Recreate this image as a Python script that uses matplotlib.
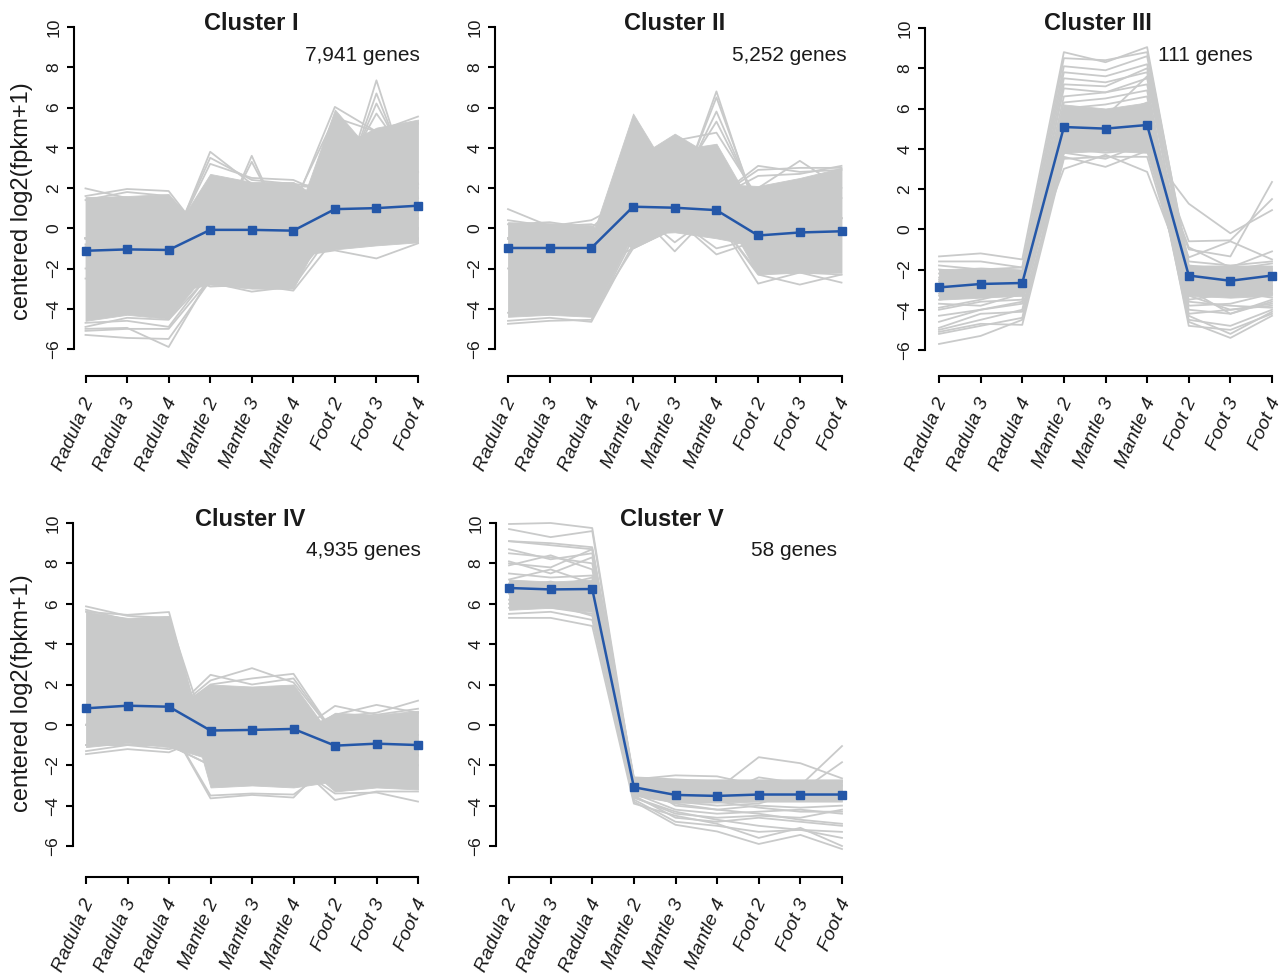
import numpy as np
import matplotlib
matplotlib.use('Agg')
import matplotlib.pyplot as plt
from matplotlib.transforms import offset_copy

plt.rcParams['font.family'] = ['Liberation Sans', 'DejaVu Sans']

W, H = 1282, 975
GRAY = '#c9caca'
BLUE = '#2457a8'
INK = '#1a1a1a'

samples = ['Radula 2', 'Radula 3', 'Radula 4', 'Mantle 2', 'Mantle 3',
           'Mantle 4', 'Foot 2', 'Foot 3', 'Foot 4']
titles = ['Cluster I', 'Cluster II', 'Cluster III', 'Cluster IV', 'Cluster V']
gene_counts = ['7,941 genes', '5,252 genes', '111 genes', '4,935 genes', '58 genes']
yticks = [-6, -4, -2, 0, 2, 4, 6, 8, 10]

# cluster means (blue)
mean_1 = [-1.12, -1.05, -1.08, -0.08, -0.08, -0.12, 0.95, 1.00, 1.12]
mean_2 = [-0.98, -0.98, -0.98, 1.07, 1.02, 0.90, -0.36, -0.21, -0.15]
mean_3 = [-2.89, -2.72, -2.67, 5.08, 5.00, 5.18, -2.30, -2.56, -2.30]
mean_4 = [0.82, 0.95, 0.90, -0.28, -0.25, -0.20, -1.03, -0.93, -1.00]
mean_5 = [6.78, 6.71, 6.73, -3.09, -3.47, -3.52, -3.45, -3.45, -3.45]

# profiles that bound the dense part of each cluster (area between them is solid)
core_1 = [
    [1.55, 1.60, 1.70, -0.70, -0.60, -0.50, 0.30, 0.30, 0.40],
    [-0.50, -0.50, -0.57, 2.70, 2.30, 2.30, 1.00, 1.00, 1.00],
    [-1.00, -1.00, -1.00, 0.20, 0.20, 0.14, 5.90, 3.50, 3.50],
    [-1.00, -1.00, -1.00, 0.00, 0.00, 0.00, 3.95, 5.00, 5.40],
    [-4.60, -4.30, -4.50, -2.00, -2.00, -2.00, 0.00, 0.00, 0.00],
    [-2.50, -2.50, -3.20, -2.80, -3.00, -3.00, 0.90, 0.50, 0.50],
    [-1.50, -1.50, -1.50, -1.50, -1.50, -1.40, -1.05, -0.85, -0.70],
]
core_2 = [
    [0.30, 0.25, 0.15, -1.00, 0.00, 0.00, 0.00, 0.00, 0.00],
    [-0.50, -0.50, -0.50, 5.70, 2.30, 2.00, 1.00, 1.00, 1.00],
    [-0.50, -0.50, -0.50, 3.40, 4.70, 3.47, 1.00, 1.00, 1.00],
    [-0.50, -0.50, -0.50, 3.00, 3.88, 4.20, 0.60, 1.00, 1.00],
    [-0.50, -0.50, -0.50, 2.00, 2.00, 2.20, 2.10, 2.50, 3.00],
    [-4.40, -4.30, -4.40, -0.30, -0.20, -0.50, -0.90, -0.50, -0.50],
    [-1.00, -1.00, -1.00, 1.00, 1.00, 1.33, -2.30, -2.20, -2.20],
]
core_3 = [
    [-2.00, -1.90, -2.00, 6.20, 6.00, 6.30, -1.80, -1.80, -1.80],
    [-3.50, -3.40, -3.30, 3.80, 3.90, 3.80, -3.30, -3.40, -3.30],
]
core_4 = [
    [5.60, 5.30, 5.40, -2.30, -1.50, -1.50, -1.50, -1.50, -1.50],
    [0.60, 0.60, 0.64, 2.00, 1.90, 2.00, -0.80, -0.50, -0.50],
    [0.00, 0.00, 0.00, 0.00, 0.00, -0.70, 0.60, 0.50, 0.70],
    [-1.10, -0.90, -1.10, -1.70, -1.00, -1.00, -1.00, -1.00, -1.00],
    [1.00, 1.00, 4.20, -3.10, -3.00, -3.10, -2.80, -2.00, -2.00],
    [0.00, 0.00, 0.00, 0.00, 0.00, -1.54, -3.30, -3.10, -3.20],
]
core_5 = [
    [7.20, 7.10, 7.20, -2.60, -2.70, -2.70, -2.70, -2.70, -2.70],
    [5.70, 5.80, 5.60, -3.50, -3.85, -3.85, -3.80, -3.80, -3.80],
]

# single gene traces visible outside the dense part
genes_1 = [
    [1.98, 1.50, 1.40, -0.50, -0.30, -0.30, 0.50, 0.50, 0.50],
    [1.60, 1.95, 1.85, -0.80, -0.50, -0.50, 0.50, 0.40, 0.50],
    [1.40, 1.80, 1.60, -0.60, 0.00, 0.20, 0.80, 0.80, 0.80],
    [-1.00, -1.20, -1.30, 3.80, 2.20, 2.10, 2.00, 2.00, 2.00],
    [-0.80, -1.00, -1.10, 3.50, 2.40, 2.20, 2.00, 2.00, 2.00],
    [-0.90, -1.00, -1.00, 3.20, 2.50, 2.40, 1.50, 1.50, 1.50],
    [-0.50, -0.50, -0.50, -1.20, 3.60, -1.00, 1.00, 1.00, 1.00],
    [-0.50, -0.50, -0.50, -0.80, 3.30, -0.60, 1.00, 1.00, 1.00],
    [-0.50, -0.50, -0.50, 0.00, 0.00, 0.00, 0.65, 7.35, 0.90],
    [-0.50, -0.50, -0.50, 0.00, 0.00, 0.00, 0.90, 6.70, 1.50],
    [-0.50, -0.50, -0.50, 0.00, 0.00, 0.00, 1.30, 6.20, 2.20],
    [-0.50, -0.50, -0.50, 0.50, 0.50, 0.50, 2.00, 5.70, 2.80],
    [-0.50, -0.50, -0.50, 1.00, 1.00, 1.00, 6.03, 4.80, 5.20],
    [-1.00, -1.00, -1.00, 1.00, 1.00, 1.20, 5.50, 4.80, 5.55],
    [-5.30, -5.45, -5.50, -2.60, -2.50, -2.50, 0.00, 0.00, 0.00],
    [-5.00, -4.95, -5.90, -2.40, -2.20, -2.20, 0.00, 0.00, 0.00],
    [-5.10, -5.00, -5.00, -2.50, -2.30, -2.30, 0.00, 0.00, 0.00],
    [-4.70, -4.60, -4.90, -2.20, -2.00, -2.00, 0.00, 0.00, 0.00],
    [-4.90, -4.45, -4.55, -2.30, -2.20, -2.20, 0.00, 0.00, 0.00],
    [-2.50, -2.50, -2.50, -2.70, -3.15, -2.90, 0.00, 0.00, 0.00],
    [-2.00, -2.00, -2.00, -2.90, -2.80, -3.10, -0.50, -0.50, -0.50],
    [-1.00, -1.00, -1.00, -1.50, -1.50, -1.40, -1.10, -1.50, -0.75],
    [-1.00, -1.00, -1.00, -1.50, -1.50, -1.40, -0.90, -0.80, -0.60],
]
genes_2 = [
    [0.95, 0.10, 0.20, -0.50, 0.50, 0.50, 0.00, 0.00, 0.00],
    [0.40, 0.10, 0.40, 1.50, 1.00, 1.00, 0.00, 0.00, 0.00],
    [0.20, 0.30, 0.00, 2.00, 1.50, 1.50, 0.00, 0.00, 0.00],
    [-0.50, -0.50, -0.50, 2.50, 4.35, 4.75, 1.50, 1.50, 1.50],
    [-0.50, -0.50, -0.50, 2.00, 1.00, 6.80, 0.50, 0.50, 0.50],
    [-0.50, -0.50, -0.50, 2.00, 1.20, 6.50, 0.80, 0.50, 0.50],
    [-0.50, -0.50, -0.50, 2.00, 1.50, 5.80, 1.00, 0.50, 0.50],
    [-0.50, -0.50, -0.50, 2.00, 2.00, 5.30, 1.20, 0.50, 0.50],
    [-0.50, -0.50, -0.50, 1.00, 1.00, 1.50, 3.10, 2.80, 2.90],
    [-0.50, -0.50, -0.50, 1.00, 1.00, 1.50, 2.90, 3.00, 3.00],
    [-0.50, -0.50, -0.50, 1.00, 1.00, 1.50, 2.00, 3.35, 2.00],
    [-0.50, -0.50, -0.50, 1.00, 1.00, 1.50, 2.60, 2.70, 3.10],
    [-4.75, -4.60, -4.55, -0.50, 0.00, 0.00, 0.00, 0.00, 0.00],
    [-4.60, -4.45, -4.65, -0.80, 0.00, 0.00, 0.00, 0.00, 0.00],
    [-4.20, -4.10, -4.30, -1.00, 0.00, 0.00, 0.00, 0.00, 0.00],
    [-2.00, -2.00, -2.00, -1.00, 0.50, 0.50, 0.00, 0.00, 0.00],
    [-1.00, -1.00, -1.00, 1.00, -1.15, 1.00, 0.00, 0.00, 0.00],
    [-1.00, -1.00, -1.00, 1.00, -0.70, 0.80, 0.00, 0.00, 0.00],
    [-1.00, -1.00, -1.00, 1.00, 0.50, -1.30, -0.60, 0.00, 0.00],
    [-1.00, -1.00, -1.00, 1.00, 0.50, -1.00, -0.50, 0.00, 0.00],
    [-1.00, -1.00, -1.00, 0.50, 0.50, 0.50, -2.75, -2.20, -2.30],
    [-1.00, -1.00, -1.00, 0.50, 0.50, 0.50, -2.30, -2.80, -2.30],
    [-1.00, -1.00, -1.00, 0.50, 0.50, 0.50, -2.20, -2.20, -2.70],
]
genes_3 = [
    [-1.35, -1.20, -1.50, 8.80, 8.30, 9.05, -2.00, -2.20, -2.20],
    [-1.60, -1.60, -1.90, 8.50, 8.40, 8.80, -1.80, -2.00, -1.70],
    [-1.80, -2.00, -1.90, 8.10, 7.90, 8.60, -2.50, -2.30, -2.00],
    [-2.20, -2.00, -2.10, 7.80, 7.60, 8.20, -2.20, -3.00, -2.50],
    [-2.50, -2.30, -2.40, 7.50, 7.30, 7.80, -3.00, -2.80, -2.60],
    [-2.80, -2.60, -2.40, 7.00, 6.80, 7.50, -2.80, -2.40, -2.80],
    [-3.00, -3.30, -2.70, 6.60, 6.80, 7.20, -3.50, -3.20, -3.00],
    [-3.30, -3.00, -3.00, 6.30, 6.50, 6.90, -3.80, -3.70, -3.20],
    [-3.70, -3.80, -3.20, 6.00, 6.20, 6.60, -4.00, -4.20, -3.50],
    [-4.00, -3.60, -3.50, 5.80, 5.50, 6.30, -4.20, -4.00, -3.80],
    [-4.30, -4.00, -3.60, 5.50, 5.20, 6.00, -4.50, -4.80, -4.00],
    [-4.60, -4.00, -3.70, 4.80, 4.50, 5.50, -4.80, -5.00, -4.20],
    [-5.00, -4.50, -4.00, 4.50, 4.20, 5.00, -4.60, -5.40, -4.30],
    [-5.20, -4.80, -4.40, 4.20, 4.00, 4.80, -4.30, -5.20, -4.10],
    [-5.70, -5.30, -4.50, 3.80, 3.50, 4.30, -3.60, -3.80, -3.90],
    [-5.10, -4.70, -4.75, 3.50, 3.60, 3.60, -3.30, -4.00, -3.70],
    [-4.90, -4.20, -4.10, 3.60, 3.10, 3.90, -3.00, -4.20, -3.60],
    [-2.60, -2.80, -2.60, 3.00, 3.70, 2.85, -2.60, -3.10, -3.40],
    [-3.20, -2.90, -2.80, 4.00, 3.80, 4.00, 1.27, -0.20, 0.95],
    [-3.00, -3.00, -2.90, 4.50, 4.30, 4.50, -1.00, -1.35, 2.35],
    [-2.90, -2.80, -3.00, 5.00, 4.80, 5.00, -0.60, -0.55, 1.50],
    [-2.40, -2.50, -2.30, 5.20, 5.00, 4.60, -0.90, -1.90, -1.10],
    [-3.50, -3.20, -3.30, 4.30, 4.50, 4.20, -1.40, -0.60, -1.50],
    [-2.00, -2.20, -2.30, 5.30, 5.60, 7.60, -1.60, -1.80, -1.60],
    [-3.90, -3.50, -3.00, 7.20, 7.10, 8.00, -2.30, -2.60, -2.90],
]
genes_4 = [
    [5.87, 5.40, 5.30, -1.00, -1.00, -1.00, -1.00, -1.00, -1.00],
    [5.60, 5.45, 5.59, -2.00, -1.50, -1.50, -1.50, -1.50, -1.50],
    [5.70, 5.20, 5.00, -1.50, -1.00, -1.00, -1.00, -1.00, -1.00],
    [0.00, 0.00, 0.50, 2.48, 2.00, 2.30, -0.50, -0.50, -0.50],
    [0.00, 0.00, 0.50, 2.20, 2.81, 2.10, -0.50, -0.50, -0.50],
    [0.00, 0.00, 0.50, 2.00, 2.30, 2.53, -0.50, -0.50, -0.50],
    [0.00, 0.00, 0.00, 0.00, 0.00, -0.50, 0.94, 0.50, 0.80],
    [0.00, 0.00, 0.00, 0.00, 0.00, -0.50, 0.50, 0.99, 0.60],
    [0.00, 0.00, 0.00, 0.00, 0.00, -0.50, 0.40, 0.60, 1.20],
    [-1.45, -1.20, -1.36, -0.50, -0.50, -0.50, -1.00, -1.00, -1.00],
    [-1.30, -1.00, -1.20, -0.80, -0.50, -0.50, -1.00, -1.00, -1.00],
    [0.00, 0.00, 0.00, -3.64, -3.47, -3.60, -1.50, -1.50, -1.50],
    [0.00, 0.00, 0.00, -3.50, -3.40, -3.45, -2.00, -2.00, -2.00],
    [-1.00, -1.00, -1.00, -2.00, -2.00, -1.80, -3.72, -3.30, -3.30],
    [-1.00, -1.00, -1.00, -2.00, -2.00, -2.00, -3.40, -3.35, -3.80],
]
genes_5 = [
    [9.95, 10.00, 9.75, -2.80, -3.00, -3.00, -3.20, -3.10, -3.00],
    [9.70, 9.30, 9.60, -3.00, -3.20, -3.30, -3.30, -3.30, -3.30],
    [9.10, 8.90, 8.70, -2.70, -2.50, -2.55, -3.00, -2.90, -2.80],
    [8.70, 8.20, 8.50, -2.90, -3.30, -3.20, -1.60, -1.90, -2.65],
    [8.50, 8.30, 8.00, -3.10, -3.40, -3.50, -2.60, -2.90, -3.50],
    [8.10, 7.50, 8.30, -3.20, -3.60, -3.70, -3.50, -3.00, -1.05],
    [7.90, 8.40, 7.70, -3.30, -3.80, -4.00, -3.90, -3.30, -1.85],
    [8.00, 7.80, 8.70, -2.70, -4.00, -4.20, -4.00, -4.10, -4.00],
    [7.50, 7.30, 7.40, -3.40, -4.20, -4.40, -4.30, -4.20, -4.40],
    [7.20, 7.70, 7.00, -3.60, -4.40, -4.60, -4.50, -4.60, -4.20],
    [7.00, 6.80, 7.30, -3.50, -4.60, -4.80, -4.60, -4.80, -5.00],
    [6.50, 6.30, 6.50, -3.70, -4.80, -5.00, -5.30, -5.20, -5.30],
    [6.00, 5.80, 5.50, -3.80, -4.95, -5.28, -5.90, -5.45, -6.15],
    [5.30, 5.30, 4.90, -3.90, -4.50, -4.90, -5.60, -5.10, -6.00],
    [5.50, 5.60, 5.20, -3.60, -4.30, -4.70, -5.00, -5.20, -5.60],
    [5.80, 6.00, 5.40, -3.30, -3.90, -4.20, -4.40, -4.70, -4.90],
    [6.20, 5.90, 6.00, -3.00, -3.50, -3.80, -4.10, -4.30, -4.30],
    [9.10, 9.00, 8.80, -2.60, -2.70, -2.80, -2.80, -2.90, -2.80],
    [6.80, 7.10, 6.70, -3.20, -3.30, -3.40, -3.60, -3.50, -3.60],
]

means = [mean_1, mean_2, mean_3, mean_4, mean_5]
cores = [core_1, core_2, core_3, core_4, core_5]
genes = [genes_1, genes_2, genes_3, genes_4, genes_5]

# panel geometry in pixels: y-axis x, first tick x, last tick x, y of 10, y of -6, x-axis y
panels = [
    (74, 85.5, 418, 27, 349, 376),
    (495, 508, 841.5, 27, 349, 376),
    (925, 939, 1272, 28, 350, 376),
    (73, 86, 418, 523, 846, 877),
    (496, 509, 842, 523, 846, 877),
]
title_pos = [(251, 30), (675, 30), (1098, 30), (250, 526), (672, 526)]
count_pos = [(305, 61), (732, 61), (1158, 61), (306, 556), (751, 556)]
ylabel_pos = [(22, 201), (22, 693)]

fig = plt.figure(figsize=(W / 100, H / 100), dpi=100)
x = np.arange(1, 10)

for k in range(5):
    sx, x1, x9, y10, ym6, xax = panels[k]
    ppx = (x9 - x1) / 8.0
    ppy = (ym6 - y10) / 16.0
    gap = (x1 - sx) / ppx
    right = x9 + (x1 - sx)
    ax = fig.add_axes([sx / W, 1 - xax / H, (right - sx) / W, (xax - y10) / H])
    ax.set_xlim(1 - gap, 9 + gap)
    ax.set_ylim(-6 - (xax - ym6) / ppy, 10)
    ax.patch.set_alpha(0)

    # dense band: union of the core profiles, segment by segment
    core = np.array(cores[k])
    xs, lo, hi = [], [], []
    for i in range(8):
        t = np.linspace(0, 1, 40)
        seg = core[:, i][:, None] + t[None, :] * (core[:, i + 1] - core[:, i])[:, None]
        xs.append(x[i] + t)
        lo.append(seg.min(axis=0))
        hi.append(seg.max(axis=0))
    ax.fill_between(np.concatenate(xs), np.concatenate(lo), np.concatenate(hi),
                    color=GRAY, lw=0.6, zorder=1)

    for g in genes[k]:
        ax.plot(x, g, color=GRAY, lw=1.3, zorder=2, clip_on=False)

    ax.plot(x, means[k], color=BLUE, lw=1.8, marker='s', ms=5.2,
            mec=BLUE, mfc=BLUE, zorder=5, clip_on=False)

    for side in ['top', 'right']:
        ax.spines[side].set_visible(False)
    ax.spines['left'].set_bounds(-6, 10)
    ax.spines['bottom'].set_bounds(1, 9)
    for side in ['left', 'bottom']:
        ax.spines[side].set_linewidth(1.5)
        ax.spines[side].set_color('black')

    ax.set_yticks(yticks)
    ax.set_yticklabels([str(v).replace('-', '\u2212') for v in yticks])
    ax.tick_params(axis='y', length=5, width=1.5, pad=4, labelsize=12.5,
                   labelrotation=90, labelcolor=INK)
    for lab in ax.get_yticklabels():
        lab.set_va('center')
    ax.set_xticks(x)
    ax.set_xticklabels([])
    ax.tick_params(axis='x', length=5, width=1.5)

    trans = offset_copy(ax.get_xaxis_transform(), fig=fig, x=4, y=-23, units='dots')
    for xi, name in zip(x, samples):
        ax.text(xi, 0, name, transform=trans, rotation=66, ha='right', va='center',
                rotation_mode='anchor', fontsize=14, fontstyle='italic', color=INK)

    tx, ty = title_pos[k]
    fig.text(tx / W, 1 - ty / H, titles[k], ha='center', va='baseline',
             fontsize=17, fontweight='bold', color=INK)
    cx, cy = count_pos[k]
    fig.text(cx / W, 1 - cy / H, gene_counts[k], ha='left', va='baseline',
             fontsize=15, color=INK)

for lx, ly in ylabel_pos:
    fig.text(lx / W, 1 - ly / H, 'centered log2(fpkm+1)', rotation=90,
             ha='center', va='center', fontsize=17, color=INK)

fig.savefig('out.png', dpi=100)
